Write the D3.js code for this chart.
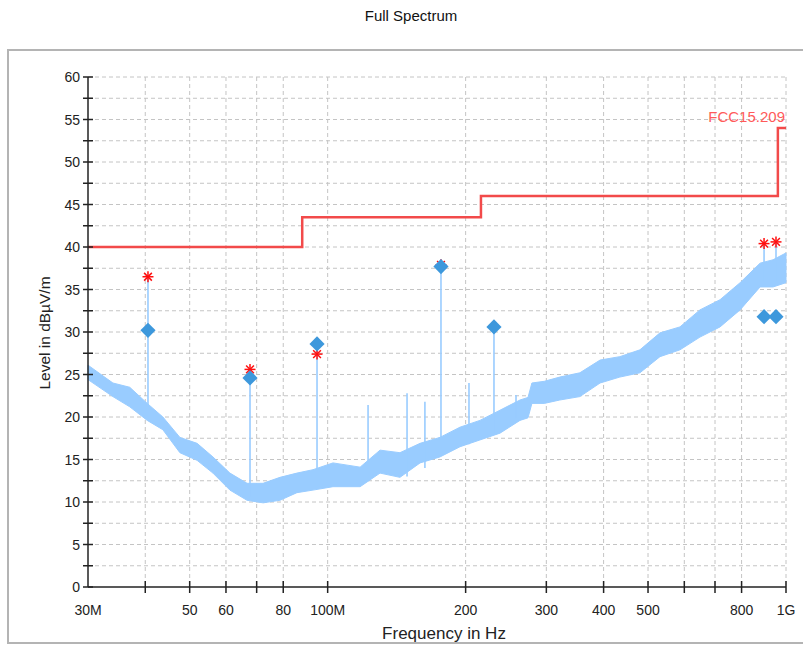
<!DOCTYPE html>
<html>
<head>
<meta charset="utf-8">
<script src="https://cdn.jsdelivr.net/npm/d3@7"></script>
<style>
  body { margin: 0; background: #fff; }
  text { font-family: "Liberation Sans", Arial, sans-serif; }
</style>
</head>
<body>
<div class="spectrum-viz"></div>
<script>
// trace envelope (MHz, dBuV/m)
const traceFreq = [30, 34, 37, 40.4, 43.7, 47.6, 51.9, 56.2, 61.2, 66.7, 72.3, 78.7, 85.7, 92.9, 102.7,
  117.7, 130.1, 143.8, 159.1, 175.8, 194.4, 214.9, 237.7, 262.8, 273.6, 279, 297, 321, 355, 393,
  434, 480, 531, 587, 649, 718, 794, 878, 937, 1000];
const traceHigh = [26.1, 24.0, 23.5, 21.6, 20.0, 17.6, 16.9, 15.3, 13.4, 12.2, 12.2, 12.9, 13.4, 13.8, 14.6,
  14.1, 16.1, 15.8, 16.9, 17.6, 18.8, 19.6, 20.8, 22.0, 22.3, 24.0, 24.2, 24.7, 25.2, 26.7,
  27.1, 27.9, 29.9, 30.6, 32.6, 33.8, 35.8, 38.1, 38.5, 39.3];
const traceLow = [24.4, 22.4, 21.2, 19.6, 18.5, 15.8, 14.9, 13.4, 11.4, 10.2, 9.9, 10.2, 11.1, 11.4, 11.8,
  11.8, 13.4, 12.9, 14.6, 15.3, 16.5, 17.3, 18.1, 19.6, 19.9, 21.6, 21.6, 22.0, 22.4, 24.0,
  24.7, 25.2, 27.1, 27.9, 29.4, 30.6, 32.6, 35.3, 35.3, 35.8];

// narrow spikes above the trace
const spikeFreq = [40.55, 67.7, 94.8, 122.5, 149, 163, 176.7, 203.4, 230.6, 257.6, 895.6, 951];
const spikeTop = [36.5, 25.5, 28.5, 21.4, 22.8, 21.8, 37.9, 24.0, 30.6, 22.6, 40.4, 40.6];
const spikeBase = [20, 10.5, 12, 12.5, 13, 14, 15.5, 16.8, 18.2, 19.8, 36, 36];

// final measurements
const peakFreq = [40.55, 67.7, 94.8, 176.7, 895.6, 951];
const peakLevel = [36.5, 25.6, 27.4, 37.9, 40.4, 40.6];
const qpFreq = [40.55, 67.7, 94.8, 176.7, 230.6, 895.6, 951];
const qpLevel = [30.2, 24.6, 28.6, 37.7, 30.6, 31.8, 31.8];

// FCC 15.209 limit line
const limitFreq = [30, 88, 88, 216, 216, 960, 960, 1000];
const limitLevel = [40, 40, 43.5, 43.5, 46, 46, 54, 54];

const xGridTicks = [40, 50, 60, 70, 80, 100, 200, 300, 400, 500, 600, 700, 800, 1000];
const xLabels = {30: "30M", 50: "50", 60: "60", 80: "80", 100: "100M", 200: "200",
  300: "300", 400: "400", 500: "500", 800: "800", 1000: "1G"};
const yMinorTicks = d3.range(0, 60.1, 2.5);
const yLabelTicks = d3.range(0, 60.1, 5);

const total_width = 803;
const total_height = 646;
const margin = {top: 77, right: 17, bottom: 59, left: 88};
const chart_width = total_width - margin.left - margin.right;
const chart_height = total_height - margin.top - margin.bottom;

const svg = d3.select(".spectrum-viz")
  .append("svg")
  .attr("width", total_width)
  .attr("height", total_height);

// outer frame
svg.append("rect")
  .attr("x", 8).attr("y", 50)
  .attr("width", 805).attr("height", 593)
  .attr("fill", "none")
  .attr("stroke", "#b4b4b4")
  .attr("stroke-width", 2);

svg.append("text")
  .text("Full Spectrum")
  .attr("x", 411).attr("y", 21)
  .attr("text-anchor", "middle")
  .attr("font-size", "15px")
  .attr("fill", "#111");

const g = svg.append("g")
  .attr("transform", "translate(" + margin.left + "," + margin.top + ")");

const x = d3.scaleLog().domain([30, 1000]).range([0, chart_width]);
const y = d3.scaleLinear().domain([0, 60]).range([chart_height, 0]);

// grid
g.selectAll(".hgrid")
  .data(yMinorTicks.filter(d => d > 0))
  .enter()
  .append("line")
  .attr("x1", 0).attr("x2", chart_width)
  .attr("y1", d => y(d)).attr("y2", d => y(d))
  .attr("stroke", "#c4c4c4")
  .attr("stroke-dasharray", "4,3");

g.selectAll(".vgrid")
  .data(xGridTicks)
  .enter()
  .append("line")
  .attr("x1", d => x(d)).attr("x2", d => x(d))
  .attr("y1", 0).attr("y2", chart_height)
  .attr("stroke", "#c4c4c4")
  .attr("stroke-dasharray", "4,3");

// spectrum trace
const trace = traceFreq.map((f, i) => ({f: f, hi: traceHigh[i], lo: traceLow[i]}));
g.append("path")
  .datum(trace)
  .attr("fill", "#99ccff")
  .attr("stroke", "#99ccff")
  .attr("stroke-width", 1)
  .attr("d", d3.area()
    .x(d => x(d.f))
    .y0(d => y(d.lo))
    .y1(d => y(d.hi)));

g.selectAll(".spike")
  .data(spikeFreq)
  .enter()
  .append("line")
  .attr("x1", d => x(d)).attr("x2", d => x(d))
  .attr("y1", (d, i) => y(spikeBase[i]))
  .attr("y2", (d, i) => y(spikeTop[i]))
  .attr("stroke", "#99ccff")
  .attr("stroke-width", 1.6);

// limit
g.append("path")
  .datum(limitFreq.map((f, i) => [f, limitLevel[i]]))
  .attr("fill", "none")
  .attr("stroke", "#f24a4a")
  .attr("stroke-width", 2.5)
  .attr("d", d3.line().x(d => x(d[0])).y(d => y(d[1])));

g.append("text")
  .text("FCC15.209")
  .attr("x", chart_width - 1)
  .attr("y", y(54) - 6)
  .attr("text-anchor", "end")
  .attr("font-size", "15px")
  .attr("fill", "#ff5a5a");

// peak (asterisk) markers
const star = g.selectAll(".peak")
  .data(peakFreq)
  .enter()
  .append("g")
  .attr("transform", (d, i) => "translate(" + x(d) + "," + y(peakLevel[i]) + ")");
[0, 45, 90, 135].forEach(a => {
  star.append("line")
    .attr("x1", -5.5).attr("x2", 5.5)
    .attr("y1", 0).attr("y2", 0)
    .attr("transform", "rotate(" + a + ")")
    .attr("stroke", "#ff1010")
    .attr("stroke-width", 1.5);
});

// QP (diamond) markers
g.selectAll(".qp")
  .data(qpFreq)
  .enter()
  .append("path")
  .attr("d", d3.symbol().type(d3.symbolSquare).size(115))
  .attr("transform", (d, i) => "translate(" + x(d) + "," + y(qpLevel[i]) + ") rotate(45)")
  .attr("fill", "#3d98dc");

// axes
const yAxis = g.append("g");
yAxis.append("line")
  .attr("x1", 0).attr("x2", 0)
  .attr("y1", 0).attr("y2", chart_height)
  .attr("stroke", "#222").attr("stroke-width", 1.5);
yAxis.selectAll(".ytick")
  .data(yMinorTicks)
  .enter()
  .append("line")
  .attr("x1", -5).attr("x2", 5)
  .attr("y1", d => y(d)).attr("y2", d => y(d))
  .attr("stroke", "#222").attr("stroke-width", 1.5);
yAxis.selectAll(".ylabel")
  .data(yLabelTicks)
  .enter()
  .append("text")
  .text(d => d)
  .attr("x", -8)
  .attr("y", d => y(d) + 5)
  .attr("text-anchor", "end")
  .attr("font-size", "14px")
  .attr("fill", "#222");

const xAxis = g.append("g");
xAxis.append("line")
  .attr("x1", 0).attr("x2", chart_width)
  .attr("y1", chart_height).attr("y2", chart_height)
  .attr("stroke", "#222").attr("stroke-width", 1.5);
xAxis.selectAll(".xtick")
  .data(xGridTicks)
  .enter()
  .append("line")
  .attr("x1", d => x(d)).attr("x2", d => x(d))
  .attr("y1", chart_height - 6).attr("y2", chart_height + 6)
  .attr("stroke", "#222").attr("stroke-width", 1.5);
xAxis.selectAll(".xlabel")
  .data(Object.keys(xLabels).map(Number))
  .enter()
  .append("text")
  .text(d => xLabels[d])
  .attr("x", d => x(d))
  .attr("y", chart_height + 28)
  .attr("text-anchor", "middle")
  .attr("font-size", "14px")
  .attr("fill", "#222");

// axis titles
svg.append("text")
  .text("Frequency in Hz")
  .attr("x", 444).attr("y", 639)
  .attr("text-anchor", "middle")
  .attr("font-size", "17px")
  .attr("fill", "#222");

svg.append("text")
  .text("Level in dBµV/m")
  .attr("transform", "translate(50,333) rotate(-90)")
  .attr("text-anchor", "middle")
  .attr("font-size", "15.5px")
  .attr("fill", "#222");
</script>
</body>
</html>
